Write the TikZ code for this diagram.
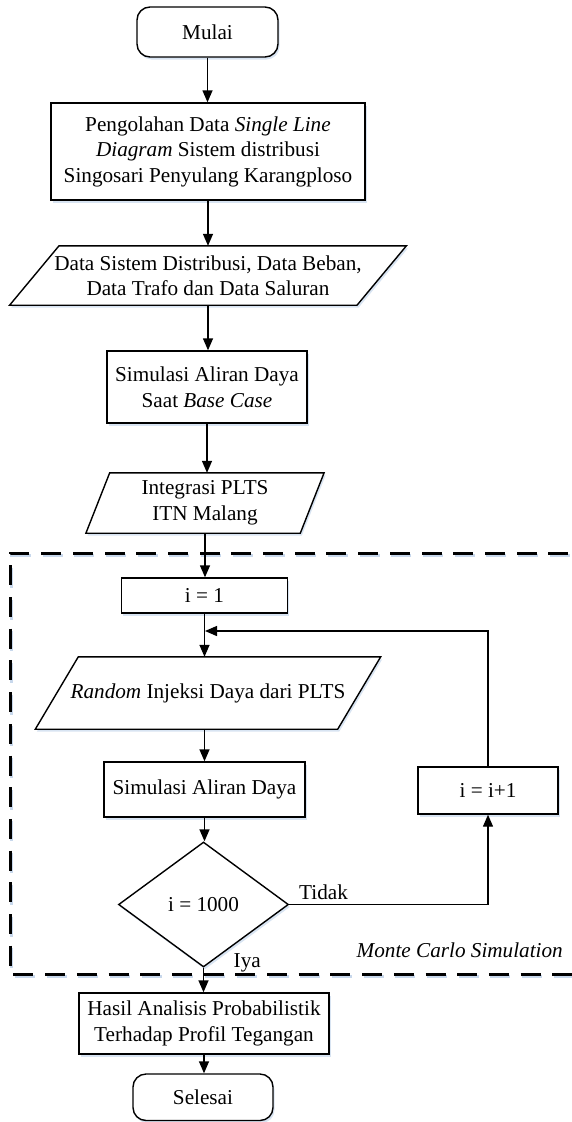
\documentclass[tikz,border=0pt]{standalone}
\usepackage{fontspec}
\setmainfont{Liberation Serif}
\usetikzlibrary{shapes.geometric,arrows.meta,shadows}

\definecolor{shadowblue}{RGB}{200,216,236}

\tikzset{
  txt/.style={font=\fontsize{21.2}{25.5}\selectfont, align=center, inner sep=2pt},
  softshadow/.style={drop shadow={shadow xshift=1.5pt, shadow yshift=-2.5pt, fill=shadowblue, opacity=0.7}},
  proc/.style={txt, draw, line width=1.4pt, fill=white, softshadow},
  term/.style={proc, rounded corners=13pt},
  iobox/.style={txt, draw=none},
  decide/.style={txt, diamond, draw, line width=1.4pt, fill=white, softshadow, aspect=1.36},
  flow/.style={line width=1.4pt, -{Triangle[length=12pt,width=10pt]}},
  lbl/.style={font=\fontsize{21.2}{25.5}\selectfont, inner sep=0pt},
  dashframe/.style={line width=3pt, dash pattern=on 20pt off 11.7pt}
}

% parallelogram drawn around a text node; #2 is half the horizontal slant
\newcommand\drawpara[2]{%
  \path[draw, line width=1.4pt, fill=white, softshadow]
    ([xshift=#2pt]#1.north west) -- ([xshift=#2pt]#1.north east)
    -- ([xshift=-#2pt]#1.south east) -- ([xshift=-#2pt]#1.south west) -- cycle;
  \node[iobox] at (#1) {\csname paratext#1\endcsname};
}

\begin{document}
\begin{tikzpicture}[x=1pt, y=-1pt]
\useasboundingbox (0,0) rectangle (572,1122);

% Monte Carlo loop frame (its right side runs off the page)
\draw[dashframe, draw=shadowblue] (601.5,555.5) -- (11.5,555.5) -- (11.5,976.5) -- (601.5,976.5);
\draw[dashframe] (600,553) -- (10,553) -- (10,974) -- (600,974);

% main column
\node[term, minimum width=141pt, minimum height=50pt] (mulai) at (207.5,32) {Mulai};
\node[proc, minimum width=314pt, minimum height=97pt] (olah) at (208,151.5)
  {Pengolahan Data \textit{Single Line}\\ \textit{Diagram} Sistem distribusi\\ Singosari Penyulang Karangploso};

\node[iobox, minimum width=347pt, minimum height=59pt] (data) at (208,275.5) {};
\newcommand\paratextdata{Data Sistem Distribusi, Data Beban,\\ Data Trafo dan Data Saluran}
\drawpara{data}{24.7}

\node[proc, minimum width=200pt, minimum height=72pt] (basecase) at (207,387)
  {Simulasi Aliran Daya\\ Saat \textit{Base Case}};

\node[iobox, minimum width=214pt, minimum height=60pt] (plts) at (205,503) {};
\newcommand\paratextplts{Integrasi PLTS\\ ITN Malang}
\drawpara{plts}{11.9}

\node[proc, minimum width=166pt, minimum height=35pt] (init) at (204.5,595.5) {i = 1};

\node[iobox, minimum width=302pt, minimum height=72pt] (rand) at (208,693) {};
\newcommand\paratextrand{\textit{Random} Injeksi Daya dari PLTS}
\drawpara{rand}{21.5}

\node[proc, minimum width=201pt, minimum height=55pt] (sim) at (204.5,789.5) {Simulasi Aliran Daya};
\node[decide, minimum width=170pt, minimum height=125pt] (cek) at (203.5,904.5) {i = 1000};
\node[proc, minimum width=140pt, minimum height=47pt] (inc) at (488,790.5) {i = i+1};

\node[proc, minimum width=250pt, minimum height=61pt] (hasil) at (204,1023.5)
  {Hasil Analisis Probabilistik\\ Terhadap Profil Tegangan};
\node[term, minimum width=140pt, minimum height=46.5pt] (selesai) at (203,1097.25) {Selesai};

\coordinate (join) at (205,631);

% connectors
\draw[flow] (mulai.south) -- (mulai.south |- olah.north);
\draw[flow] (olah.south) -- (olah.south |- data.north);
\draw[flow] (data.south) -- (data.south |- basecase.north);
\draw[flow] (basecase.south) -- (basecase.south |- plts.north);
\draw[flow] (plts.south) -- (plts.south |- init.north);
\draw[flow] (init.south) -- (init.south |- rand.north);
\draw[flow] (inc.north) |- (join);
\draw[flow] (rand.south -| sim.north) -- (sim.north);
\draw[flow] (sim.south) -- (sim.south |- cek.north);
\draw[flow] (cek.east) -| (inc.south);
\draw[flow] (cek.south) -- (cek.south |- hasil.north);
\draw[flow] (hasil.south) -- (hasil.south |- selesai.north);

% labels
\node[lbl, anchor=base west] (tidak) at (299,899) {Tidak};
\node[lbl, anchor=base west] (iya) at (233.5,967) {Iya};
\node[lbl, anchor=base east] (mcs) at (563,957) {\textit{Monte Carlo Simulation}};
\end{tikzpicture}
\end{document}
